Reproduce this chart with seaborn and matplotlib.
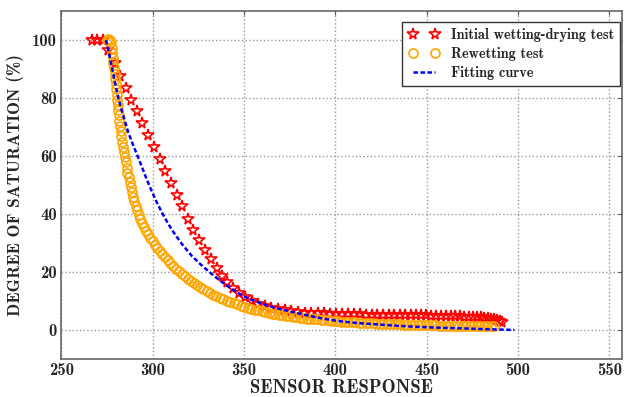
import numpy as np
import matplotlib
matplotlib.use('Agg')
import matplotlib.pyplot as plt
import seaborn as sns

# ── Data ───────────────────────────────────────────────────
# Initial wetting-drying test (red stars)
initial_x = [266.7, 269.8, 272.7, 275.5, 279.3, 282.2, 285.4, 288.3, 291.4, 294.4,
             297.7, 300.7, 303.9, 307.0, 310.1, 313.2, 316.3, 319.4, 322.3, 325.6,
             328.7, 331.8, 335.1, 337.8, 340.9, 344.2, 347.4, 350.5, 354.2, 357.8,
             361.5, 365.1, 368.7, 372.4, 376.0, 379.7, 383.3, 386.8, 390.3, 393.7,
             397.1, 400.5, 403.8, 407.1, 410.4, 413.6, 416.8, 420.0, 423.1, 426.2,
             429.3, 432.3, 435.3, 438.3, 441.2, 444.1, 447.0, 449.8, 452.6, 455.3,
             458.0, 460.6, 463.2, 465.7, 468.2, 470.6, 473.0, 475.3, 477.5, 479.6,
             481.6, 483.5, 485.3, 487.0, 488.6, 490.0, 491.0]
initial_y = [100.0, 100.0, 100.0, 96.5, 92.0, 87.7, 83.6, 79.3, 75.4, 71.4,
             67.2, 63.1, 58.9, 54.7, 50.6, 46.6, 42.6, 38.4, 34.5, 31.0,
             27.5, 24.3, 21.3, 18.6, 16.6, 14.6, 12.9, 11.5, 10.1, 9.1,
             8.4, 7.7, 7.2, 6.9, 6.6, 6.2, 6.0, 5.9, 5.8, 5.7,
             5.6, 5.6, 5.5, 5.5, 5.4, 5.4, 5.3, 5.3, 5.3, 5.2,
             5.2, 5.2, 5.1, 5.1, 5.1, 5.0, 5.0, 5.0, 4.9, 4.9,
             4.9, 4.8, 4.8, 4.7, 4.7, 4.6, 4.6, 4.5, 4.4, 4.3,
             4.2, 4.1, 3.9, 3.7, 3.5, 3.2, 2.9]

# Rewetting test (orange circles)
rewet_x = [275.0, 275.9, 276.7, 277.3, 277.7, 278.0, 278.3, 278.6, 278.9, 279.2,
           279.5, 279.8, 280.1, 280.4, 280.7, 281.0, 281.3, 281.6, 281.9, 282.2,
           282.6, 283.0, 283.4, 283.8, 284.3, 284.8, 285.3, 285.8, 286.3, 286.9,
           287.5, 288.1, 288.7, 289.3, 290.0, 290.8, 291.6, 292.5, 293.4, 294.4,
           295.4, 296.5, 297.6, 298.8, 300.0, 301.3, 302.6, 304.0, 305.4, 306.8,
           308.3, 309.8, 311.3, 312.8, 314.4, 316.0, 317.6, 319.2, 320.9, 322.6,
           324.3, 326.0, 327.8, 329.6, 331.4, 333.2, 335.0, 336.9, 338.8, 340.7,
           342.6, 344.5, 346.4, 348.3, 350.2, 352.1, 354.0, 355.9, 357.8, 359.7,
           361.6, 363.5, 365.4, 367.3, 369.2, 371.1, 373.0, 374.9, 376.8, 378.7,
           380.6, 382.5, 384.4, 386.3, 388.2, 390.1, 392.0, 393.9, 395.8, 397.7,
           399.6, 401.5, 403.4, 405.3, 407.2, 409.1, 411.0, 412.9, 414.8, 416.7,
           418.6, 420.5, 422.4, 424.3, 426.2, 428.1, 430.0, 431.9, 433.8, 435.7,
           437.6, 439.5, 441.4, 443.3, 445.2, 447.1, 449.0, 450.9, 452.8, 454.7,
           456.6, 458.5, 460.4, 462.3, 464.2, 466.1, 468.0, 469.9, 471.8, 473.7,
           475.6, 477.5, 479.4, 481.3, 483.2, 485.1, 487.0]
rewet_y = [100.0, 100.3, 100.2, 99.2, 97.4, 95.6, 93.8, 92.0, 90.2, 88.4,
           86.6, 84.8, 83.0, 81.2, 79.4, 77.6, 75.8, 74.0, 72.2, 70.4,
           68.6, 66.8, 65.0, 63.2, 61.4, 59.6, 57.8, 56.0, 54.3, 52.6,
           50.9, 49.2, 47.6, 46.0, 44.4, 42.8, 41.3, 39.8, 38.4, 37.0,
           35.6, 34.3, 33.0, 31.8, 30.6, 29.4, 28.3, 27.2, 26.1, 25.0,
           24.0, 23.0, 22.0, 21.1, 20.2, 19.3, 18.5, 17.7, 16.9, 16.1,
           15.4, 14.7, 14.0, 13.4, 12.8, 12.2, 11.6, 11.0, 10.5, 10.0,
           9.6, 9.2, 8.8, 8.4, 8.0, 7.6, 7.3, 7.0, 6.7, 6.4,
           6.1, 5.8, 5.6, 5.4, 5.2, 5.0, 4.8, 4.7, 4.5, 4.4,
           4.2, 4.1, 3.9, 3.8, 3.7, 3.6, 3.5, 3.4, 3.3, 3.2,
           3.1, 3.0, 2.9, 2.8, 2.7, 2.7, 2.6, 2.5, 2.5, 2.4,
           2.3, 2.3, 2.2, 2.2, 2.1, 2.1, 2.0, 2.0, 1.9, 1.9,
           1.8, 1.8, 1.8, 1.7, 1.7, 1.7, 1.6, 1.6, 1.6, 1.6,
           1.5, 1.5, 1.5, 1.5, 1.4, 1.4, 1.4, 1.4, 1.4, 1.3,
           1.3, 1.3, 1.3, 1.3, 1.2, 1.2, 1.2]

# Fitting curve (blue dashed)
fit_x = [274.5, 276.0, 277.7, 279.5, 281.3, 283.2, 285.0, 286.8, 289.5, 292.2,
         294.1, 296.8, 299.6, 302.5, 305.9, 308.6, 311.4, 315.9, 321.4, 326.0,
         329.6, 333.2, 337.8, 342.3, 347.8, 353.3, 360.5, 367.9, 375.0, 384.0,
         393.3, 402.4, 411.6, 420.7, 429.8, 440.0, 455.0, 470.0, 485.0, 498.0]
fit_y = [100.0, 96.0, 90.8, 85.2, 80.0, 75.6, 71.8, 68.0, 63.6, 59.4,
         56.4, 52.0, 47.8, 43.8, 39.6, 36.6, 33.8, 29.8, 25.6, 22.8,
         20.8, 18.9, 16.6, 14.6, 12.4, 10.6, 8.9, 7.5, 6.4, 5.1,
         3.9, 3.0, 2.4, 2.0, 1.6, 1.2, 0.8, 0.5, 0.2, 0.0]

x_ticks = [250, 300, 350, 400, 450, 500, 550]
y_ticks = [0, 20, 40, 60, 80, 100]

# ── Style ──────────────────────────────────────────────────
sns.set_style('whitegrid', {'grid.linestyle': ':', 'grid.color': '#9a9a9a',
                            'axes.edgecolor': '#555555',
                            'xtick.direction': 'in', 'ytick.direction': 'in'})
plt.rcParams['font.family'] = ['cmb10', 'DejaVu Serif']
plt.rcParams['axes.unicode_minus'] = False
plt.rcParams['mathtext.fontset'] = 'cm'

fig, ax = plt.subplots(figsize=(6.24, 3.97), dpi=100)
fig.subplots_adjust(left=0.098, right=0.997, bottom=0.096, top=0.972)

sns.lineplot(x=initial_x, y=initial_y, ax=ax, sort=False, estimator=None,
             linestyle='none', marker='*', markersize=8.5, markerfacecolor='none',
             markeredgecolor='red', markeredgewidth=1.2, color='red',
             label='Initial wetting-drying test')
sns.lineplot(x=rewet_x, y=rewet_y, ax=ax, sort=False, estimator=None,
             linestyle='none', marker='o', markersize=6.5, markerfacecolor='none',
             markeredgecolor='orange', markeredgewidth=1.2, color='orange',
             label='Rewetting test')
sns.lineplot(x=fit_x, y=fit_y, ax=ax, sort=False, estimator=None,
             color='blue', linewidth=1.8, dashes=False, label='Fitting curve')
ax.lines[-1].set_dashes((1.8, 1.0))

ax.set_xlim(250, 557)
ax.set_ylim(-10, 110)
ax.set_xticks(x_ticks)
ax.set_yticks(y_ticks)
ax.grid(True, linestyle=':', linewidth=1.0, color='#9a9a9a')
ax.tick_params(axis='both', which='both', direction='in', length=3,
               top=True, right=True, labelsize=12, pad=3, color='#555555')
for s in ax.spines.values():
    s.set_linewidth(1.2)
    s.set_color('#666666')

ax.set_xlabel('SENSOR RESPONSE', fontsize=13.5, labelpad=1)
ax.set_ylabel('DEGREE OF SATURATION (%)', fontsize=12.4, labelpad=6)

leg = ax.legend(loc='upper right', bbox_to_anchor=(0.9964, 0.969), borderaxespad=0,
                numpoints=2, fontsize=10.3, frameon=True, fancybox=False,
                handlelength=2.2, borderpad=0.4, labelspacing=0.38)
leg.get_frame().set_edgecolor('#333333')
leg.get_frame().set_linewidth(1.0)
leg.get_frame().set_alpha(1)

plt.savefig('out.png', dpi=100)
